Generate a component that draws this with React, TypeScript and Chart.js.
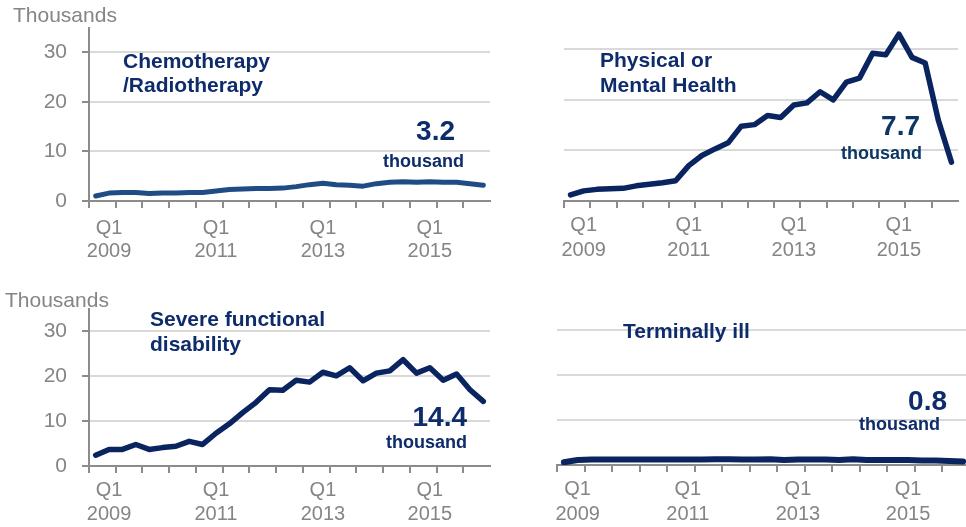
import { useEffect, useRef } from "react";
import { Chart, registerables } from "chart.js";

Chart.register(...registerables);

const quarters = [
  "Q4 2008", "Q1 2009", "Q2 2009", "Q3 2009", "Q4 2009",
  "Q1 2010", "Q2 2010", "Q3 2010", "Q4 2010",
  "Q1 2011", "Q2 2011", "Q3 2011", "Q4 2011",
  "Q1 2012", "Q2 2012", "Q3 2012", "Q4 2012",
  "Q1 2013", "Q2 2013", "Q3 2013", "Q4 2013",
  "Q1 2014", "Q2 2014", "Q3 2014", "Q4 2014",
  "Q1 2015", "Q2 2015", "Q3 2015", "Q4 2015",
  "Q1 2016",
];

const shownTickLabels: Record<string, string[]> = {
  "Q1 2009": ["Q1", "2009"],
  "Q1 2011": ["Q1", "2011"],
  "Q1 2013": ["Q1", "2013"],
  "Q1 2015": ["Q1", "2015"],
};

const chemoValues = [1.0, 1.6, 1.7, 1.7, 1.5, 1.6, 1.6, 1.7, 1.7, 2.0, 2.3, 2.4, 2.5, 2.5, 2.6, 2.9, 3.3, 3.6, 3.3, 3.2, 3.0, 3.5, 3.8, 3.9, 3.8, 3.9, 3.8, 3.8, 3.5, 3.2];
const physicalValues = [1.2, 2.0, 2.3, 2.4, 2.5, 3.0, 3.3, 3.6, 4.0, 7.0, 9.0, 10.3, 11.5, 14.8, 15.1, 16.9, 16.5, 19.0, 19.4, 21.6, 20.0, 23.5, 24.3, 29.2, 28.9, 33.0, 28.4, 27.3, 16.0, 7.7];
const severeValues = [2.4, 3.7, 3.7, 4.8, 3.7, 4.1, 4.4, 5.5, 4.8, 7.3, 9.4, 11.9, 14.2, 17.0, 16.9, 19.1, 18.7, 20.9, 20.1, 21.9, 19.0, 20.7, 21.2, 23.7, 20.7, 21.9, 19.1, 20.5, 17.0, 14.4];
const terminalValues = [0.6, 1.1, 1.2, 1.2, 1.2, 1.2, 1.2, 1.2, 1.2, 1.2, 1.2, 1.3, 1.3, 1.2, 1.2, 1.3, 1.1, 1.2, 1.2, 1.2, 1.1, 1.3, 1.1, 1.1, 1.1, 1.1, 1.0, 1.0, 0.9, 0.8];

const yTickValues = [0, 10, 20, 30];
const Y_MAX = 35;

const FONT = '"Liberation Sans", Arial, Helvetica, sans-serif';
const AXIS = "#8c8c8c";
const GRID = "#d9d9d9";
const TICK_TEXT = "#858585";
const NAVY = "#0e2b6b";
const LINE_DARK = "#0a2460";
const LINE_STEEL = "#204c86";

type TextItem = {
  text: string;
  x: number;
  y: number;
  align: CanvasTextAlign;
  size: number;
  bold: boolean;
  color: string;
};

type Panel = {
  key: string;
  values: number[];
  lineColor: string;
  lineWidth: number;
  left: number;
  top: number;
  width: number;
  height: number;
  area: { left: number; right: number; top: number; bottom: number };
  showY: boolean;
  xPad: number;
  xLineHeight: number;
  texts: TextItem[];
};

const title = (text: string, x: number, y: number): TextItem => ({ text, x, y, align: "left", size: 21, bold: true, color: NAVY });
const bigValue = (text: string, x: number, y: number, color = NAVY): TextItem => ({ text, x, y, align: "right", size: 28, bold: true, color });
const unit = (x: number, y: number, color = NAVY): TextItem => ({ text: "thousand", x, y, align: "right", size: 18, bold: true, color });
const yTitle = (x: number, y: number): TextItem => ({ text: "Thousands", x, y, align: "left", size: 21, bold: false, color: TICK_TEXT });

const panels: Panel[] = [
  {
    key: "chemo",
    values: chemoValues,
    lineColor: LINE_STEEL,
    lineWidth: 5,
    left: 0, top: 0, width: 495, height: 263,
    area: { left: 89, right: 490, top: 24, bottom: 201 },
    showY: true,
    xPad: 9,
    xLineHeight: 23,
    texts: [
      yTitle(13, 22),
      title("Chemotherapy", 123, 68),
      title("/Radiotherapy", 123, 92),
      bigValue("3.2", 455, 140),
      unit(464, 167),
    ],
  },
  {
    key: "physical",
    values: physicalValues,
    lineColor: LINE_DARK,
    lineWidth: 5.5,
    left: 495, top: 0, width: 471, height: 263,
    area: { left: 69, right: 463, top: 24, bottom: 201 },
    showY: false,
    xPad: 5,
    xLineHeight: 25,
    texts: [
      title("Physical or", 600, 67),
      title("Mental Health", 600, 92),
      bigValue("7.7", 920, 135, "#0d3763"),
      unit(922, 159, "#0d3763"),
    ],
  },
  {
    key: "severe",
    values: severeValues,
    lineColor: LINE_DARK,
    lineWidth: 5.5,
    left: 0, top: 263, width: 495, height: 264,
    area: { left: 89, right: 490, top: 46, bottom: 203 },
    showY: true,
    xPad: 5.5,
    xLineHeight: 24,
    texts: [
      yTitle(5, 307),
      title("Severe functional", 150, 326),
      title("disability", 150, 351),
      bigValue("14.4", 467, 426),
      unit(467, 448),
    ],
  },
  {
    key: "terminal",
    values: terminalValues,
    lineColor: LINE_DARK,
    lineWidth: 6,
    left: 495, top: 263, width: 480, height: 264,
    area: { left: 62, right: 475, top: 44, bottom: 202 },
    showY: false,
    xPad: 5,
    xLineHeight: 25,
    texts: [
      title("Terminally ill", 623, 338),
      bigValue("0.8", 947, 410),
      unit(940, 430),
    ],
  },
];

function PanelChart({ panel }: { panel: Panel }) {
  const ref = useRef<HTMLCanvasElement | null>(null);

  useEffect(() => {
    if (!ref.current) return;
    const p = panel;
    const textPlugin = {
      id: "panelTexts-" + p.key,
      afterDraw(chart: any) {
        const ctx = chart.ctx as CanvasRenderingContext2D;
        ctx.save();
        ctx.textBaseline = "alphabetic";
        for (const t of p.texts) {
          ctx.font = `${t.bold ? "bold " : ""}${t.size}px ${FONT}`;
          ctx.fillStyle = t.color;
          ctx.textAlign = t.align;
          ctx.fillText(t.text, t.x - p.left, t.y - p.top);
        }
        ctx.restore();
      },
    };

    const chart = new Chart(ref.current, {
      type: "line",
      data: {
        labels: quarters,
        datasets: [
          {
            data: p.values,
            borderColor: p.lineColor,
            borderWidth: p.lineWidth,
            pointRadius: 0,
            tension: 0,
            fill: false,
            borderJoinStyle: "round",
            borderCapStyle: "round",
          },
        ],
      },
      options: {
        animation: false,
        responsive: false,
        maintainAspectRatio: false,
        devicePixelRatio: 1,
        events: [],
        layout: {
          padding: { left: 0, right: p.width - p.area.right, top: p.area.top, bottom: 0 },
        },
        plugins: {
          legend: { display: false },
          tooltip: { enabled: false },
          title: { display: false },
        },
        scales: {
          x: {
            type: "category",
            offset: true,
            grid: {
              offset: true,
              drawOnChartArea: false,
              drawTicks: true,
              tickLength: 7,
              lineWidth: 2,
              color: "transparent",
              tickColor: (ctx: any) => (ctx.index % 2 === 0 ? AXIS : "transparent"),
            },
            border: { display: true, color: AXIS, width: 2 },
            ticks: {
              autoSkip: false,
              maxRotation: 0,
              minRotation: 0,
              padding: p.xPad,
              color: TICK_TEXT,
              font: { family: FONT, size: 20, lineHeight: p.xLineHeight / 20 },
              callback: (_v: any, i: number) => shownTickLabels[quarters[i]] ?? "",
            },
            afterFit: (s: any) => {
              s.height = p.height - p.area.bottom;
            },
          },
          y: {
            min: 0,
            max: Y_MAX,
            afterBuildTicks: (s: any) => {
              s.ticks = yTickValues.map((v) => ({ value: v }));
            },
            grid: {
              color: (ctx: any) => (ctx.tick && ctx.tick.value === 0 ? "transparent" : GRID),
              lineWidth: 2,
              drawTicks: p.showY,
              tickLength: 7,
              tickColor: AXIS,
            },
            border: { display: p.showY, color: AXIS, width: 2 },
            ticks: {
              display: p.showY,
              padding: 15,
              color: TICK_TEXT,
              font: { family: FONT, size: 21 },
            },
            afterFit: (s: any) => {
              s.width = p.area.left;
            },
          },
        },
      } as any,
      plugins: [textPlugin],
    });

    return () => chart.destroy();
  }, [panel]);

  return (
    <canvas
      ref={ref}
      width={panel.width}
      height={panel.height}
      style={{ position: "absolute", left: panel.left, top: panel.top, width: panel.width, height: panel.height, display: "block" }}
    />
  );
}

export default function App() {
  return (
    <div
      style={{
        position: "fixed",
        left: 0,
        top: 0,
        width: 966,
        height: 527,
        overflow: "hidden",
        background: "#ffffff",
      }}
    >
      {panels.map((p) => (
        <PanelChart key={p.key} panel={p} />
      ))}
    </div>
  );
}
